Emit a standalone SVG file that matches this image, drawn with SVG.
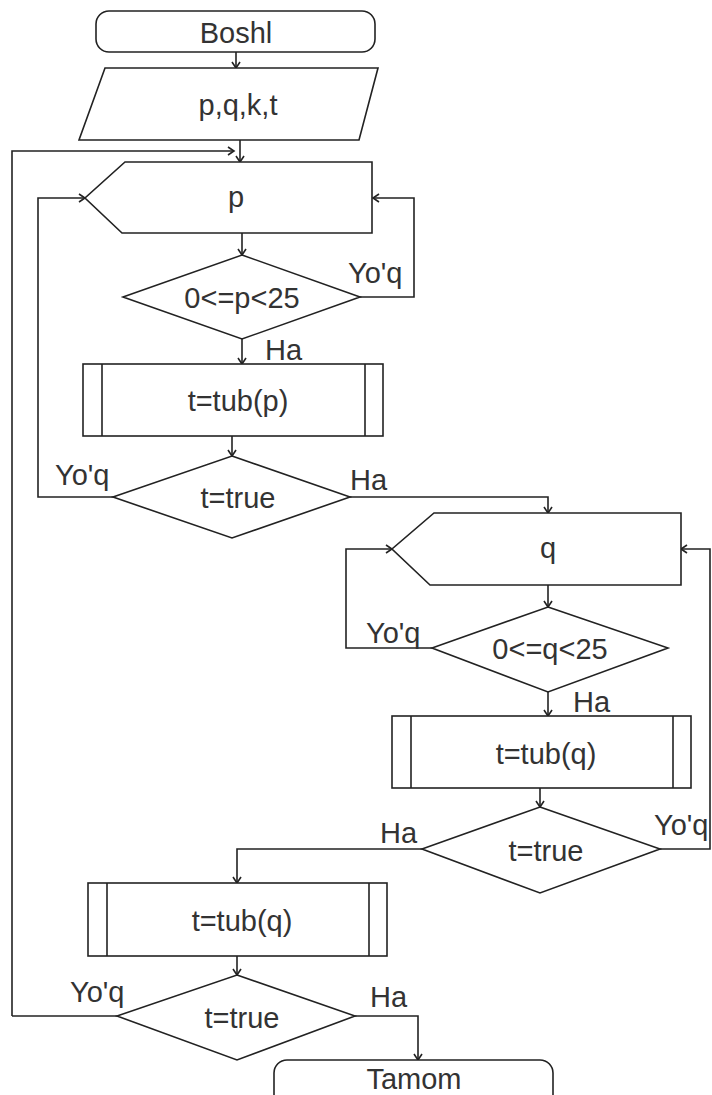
<svg xmlns="http://www.w3.org/2000/svg" width="712" height="1095" viewBox="0 0 712 1095">
  <style>
    .shape { fill: #ffffff; stroke: #222222; stroke-width: 1.6; }
    .bar { fill: none; stroke: #222222; stroke-width: 1.6; }
    .wire { fill: none; stroke: #222222; stroke-width: 1.6; marker-end: url(#arr); }
    .wire-plain { fill: none; stroke: #222222; stroke-width: 1.6; }
    .txt { font-family: "Liberation Sans", Arial, sans-serif; font-size: 29px; fill: #333333; text-anchor: middle; }
    .lbl { font-family: "Liberation Sans", Arial, sans-serif; font-size: 29px; fill: #333333; }
  </style>
  <defs>
    <marker id="arr" markerWidth="12" markerHeight="12" refX="9" refY="6" orient="auto" markerUnits="userSpaceOnUse">
      <path d="M3,2 L9,6 L3,10" fill="none" stroke="#222222" stroke-width="1.6"/>
    </marker>
  </defs>
  <rect width="712" height="1095" fill="#ffffff"/>

  <!-- connectors -->
  <g id="connectors">
    <path class="wire" d="M236,52 V68"/>
    <path class="wire" d="M240,140 V162"/>
    <path class="wire" d="M12,1016 V151 H234"/>
    <path class="wire" d="M242,233 V255"/>
    <path class="wire" d="M360,297 H414 V198 H373"/>
    <path class="wire" d="M242,339 V364"/>
    <path class="wire" d="M232,436 V456"/>
    <path class="wire" d="M113,497 H38 V198 H85"/>
    <path class="wire" d="M350,497 H548 V513"/>
    <path class="wire" d="M548,585 V607"/>
    <path class="wire" d="M432,648 H346 V549 H392"/>
    <path class="wire" d="M548,692 V716"/>
    <path class="wire" d="M540,788 V807"/>
    <path class="wire" d="M660,849 H710 V549 H681"/>
    <path class="wire" d="M422,849 H237 V883"/>
    <path class="wire" d="M237,956 V975"/>
    <path class="wire-plain" d="M117,1016 H12"/>
    <path class="wire" d="M355,1016 H418 V1060"/>
  </g>

  <!-- start -->
  <g id="start">
    <rect class="shape" x="96" y="11" width="279" height="41" rx="13"/>
    <text class="txt" x="236" y="43">Boshl</text>
  </g>

  <!-- input -->
  <g id="input">
    <polygon class="shape" points="105,68 378,68 359,140 79,140"/>
    <text class="txt" x="238" y="115">p,q,k,t</text>
  </g>

  <!-- loop over p -->
  <g id="loop-p">
    <polygon class="shape" points="125,162 372,162 372,233 122,233 85,198"/>
    <text class="txt" x="236" y="207">p</text>
  </g>

  <g id="check-p">
    <polygon class="shape" points="242,255 360,297 242,339 123,297"/>
    <text class="txt" x="242" y="308">0&lt;=p&lt;25</text>
    <text class="lbl" x="348" y="283">Yo'q</text>
    <text class="lbl" x="265" y="360">Ha</text>
  </g>

  <g id="tub-p">
    <rect class="shape" x="83" y="364" width="300" height="72"/>
    <path class="bar" d="M102,364 V436 M365,364 V436"/>
    <text class="txt" x="238" y="411">t=tub(p)</text>
  </g>

  <g id="test-p">
    <polygon class="shape" points="232,456 350,497 232,538 113,497"/>
    <text class="txt" x="238" y="508">t=true</text>
    <text class="lbl" x="55" y="485">Yo'q</text>
    <text class="lbl" x="350" y="490">Ha</text>
  </g>

  <!-- loop over q -->
  <g id="loop-q">
    <polygon class="shape" points="434,513 681,513 681,585 430,585 392,549"/>
    <text class="txt" x="548" y="558">q</text>
  </g>

  <g id="check-q">
    <polygon class="shape" points="548,607 668,648 548,692 432,648"/>
    <text class="txt" x="550" y="659">0&lt;=q&lt;25</text>
    <text class="lbl" x="366" y="643">Yo'q</text>
    <text class="lbl" x="573" y="712">Ha</text>
  </g>

  <g id="tub-q1">
    <rect class="shape" x="392" y="716" width="299" height="72"/>
    <path class="bar" d="M411,716 V788 M673,716 V788"/>
    <text class="txt" x="546" y="764">t=tub(q)</text>
  </g>

  <g id="test-q1">
    <polygon class="shape" points="540,807 660,849 540,893 422,849"/>
    <text class="txt" x="546" y="861">t=true</text>
    <text class="lbl" x="380" y="843">Ha</text>
    <text class="lbl" x="654" y="835">Yo'q</text>
  </g>

  <g id="tub-q2">
    <rect class="shape" x="88" y="883" width="299" height="73"/>
    <path class="bar" d="M107,883 V956 M369,883 V956"/>
    <text class="txt" x="242" y="931">t=tub(q)</text>
  </g>

  <g id="test-q2">
    <polygon class="shape" points="237,975 355,1016 237,1060 117,1016"/>
    <text class="txt" x="242" y="1028">t=true</text>
    <text class="lbl" x="70" y="1002">Yo'q</text>
    <text class="lbl" x="370" y="1007">Ha</text>
  </g>

  <!-- end -->
  <g id="end">
    <rect class="shape" x="274" y="1060" width="279" height="60" rx="13"/>
    <text class="txt" x="414" y="1089">Tamom</text>
  </g>
</svg>
